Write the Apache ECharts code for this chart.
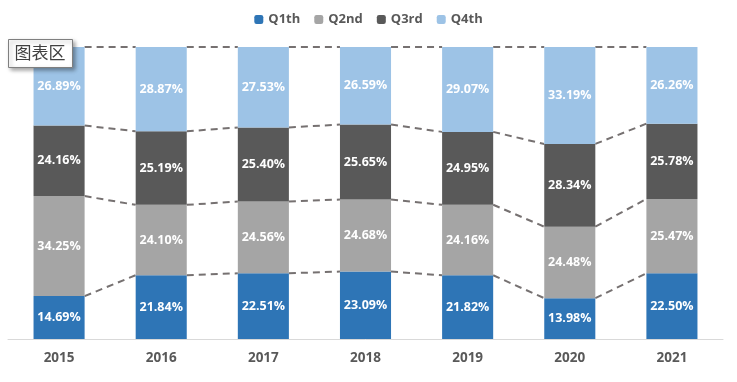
<!DOCTYPE html>
<html><head><meta charset="utf-8">
<script src="https://cdn.jsdelivr.net/npm/echarts@6/dist/echarts.min.js"></script>
<style>html,body{margin:0;padding:0;background:#fff}#c{width:737px;height:382px}</style>
</head><body><div id="c"></div>
<script>
var categories = ['2015','2016','2017','2018','2019','2020','2021'];
var q1 = [14.69, 21.84, 22.51, 23.09, 21.82, 13.98, 22.50];
var q2 = [34.25, 24.10, 24.56, 24.68, 24.16, 24.48, 25.47];
var q3 = [24.16, 25.19, 25.40, 25.65, 24.95, 28.34, 25.78];
var q4 = [26.89, 28.87, 27.53, 26.59, 29.07, 33.19, 26.26];
var seriesNames = ['Q1th','Q2nd','Q3rd','Q4th'];
var colors = ['#2E75B6','#A5A5A5','#595959','#9DC3E6'];
var all = [q1,q2,q3,q4];

// cumulative boundaries for connector lines
var cum = categories.map(function(_,i){
  var s=0, r=[];
  for (var k=0;k<4;k++){ s+=all[k][i]; r.push(Math.min(s,100)); }
  return r;
});
var connData = [];
for (var i=0;i<categories.length-1;i++){
  for (var k=0;k<4;k++){ connData.push([i, cum[i][k], cum[i+1][k]]); }
}

var chart = echarts.init(document.getElementById('c'));
var series = all.map(function(d,k){
  return {
    name: seriesNames[k], type:'bar', stack:'t', data:d, barWidth:'50%',
    itemStyle:{color:colors[k]},
    label:{show:true, position:'inside', color:'#fff', fontWeight:'bold', fontSize:12.5,
      fontFamily:'Open Sans', formatter:function(p){return p.value.toFixed(2)+'%';}}
  };
});
series.push({
  type:'custom', silent:true, data:connData, z:1,
  renderItem:function(params, api){
    var i = api.value(0);
    var w = api.size([1,0])[0]*0.5;
    var p1 = api.coord([i, api.value(1)]);
    var p2 = api.coord([i+1, api.value(2)]);
    return {type:'line', shape:{x1:p1[0]+w/2, y1:p1[1], x2:p2[0]-w/2, y2:p2[1]},
      style:{stroke:'#767171', lineWidth:2, lineDash:[7,5]}};
  },
  encode:{x:0,y:1}
});

chart.setOption({
  animation:false,
  legend:{top:8, left:'center', itemWidth:9, itemHeight:9, itemGap:14,
    data:seriesNames,
    textStyle:{color:'#595959', fontWeight:'bold', fontSize:13, fontFamily:'Open Sans'}},
  grid:{left:8, right:14, top:47, bottom:43},
  xAxis:{type:'category', data:categories,
    axisLine:{lineStyle:{color:'#D9D9D9'}}, axisTick:{show:false},
    axisLabel:{color:'#595959', fontWeight:'bold', fontSize:13.5, fontFamily:'Open Sans', margin:12}},
  yAxis:{type:'value', min:0, max:100, show:false, splitLine:{show:false}},
  series: series,
  graphic:[{
    type:'group', left:8, top:39, z:100, children:[
      {type:'rect', z:100, shape:{x:0,y:0,width:64,height:28},
        style:{fill:'#fff', stroke:'#7f7f7f', lineWidth:1, shadowBlur:4, shadowOffsetX:2, shadowOffsetY:2, shadowColor:'rgba(0,0,0,0.35)'}},
      {type:'text', z:101, x:6, y:5, style:{text:'图表区', fill:'#404040', fontSize:17, fontFamily:'Noto Sans CJK SC'}}
    ]
  }]
});
</script></body></html>
